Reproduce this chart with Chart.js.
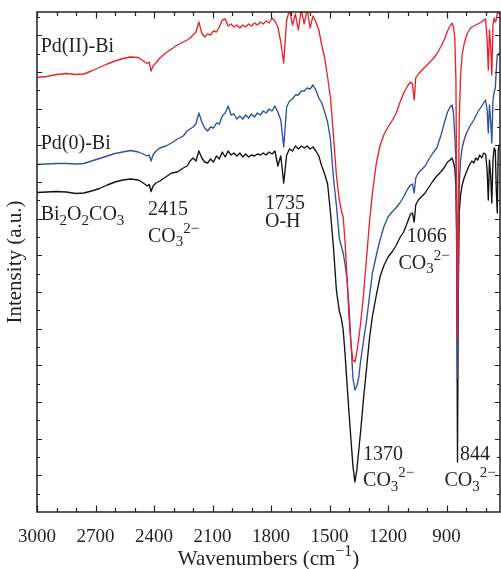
<!DOCTYPE html>
<html>
<head>
<meta charset="utf-8">
<script src="https://cdn.jsdelivr.net/npm/chart.js@4.4.1/dist/chart.umd.min.js"></script>
<style>
  html, body { margin: 0; padding: 0; background: #ffffff; }
  canvas { display: block; }
</style>
</head>
<body>
<canvas id="ftir" width="501" height="569"></canvas>
<script>
// FT-IR spectra of Bi2O2CO3, Pd(0)-Bi and Pd(II)-Bi (offset intensity, a.u.)
const wavenumbers = [
  3000, 2950, 2900, 2850, 2800, 2760, 2720, 2680, 2640, 2600, 2560, 2520, 2480, 2455, 2435, 2425, 2415, 2405, 2390, 2370, 2340, 2310, 2280, 2250,
  2230, 2215, 2200, 2185, 2170, 2155, 2140, 2125, 2110, 2095, 2080, 2065, 2050, 2035, 2020, 2005, 1990, 1975, 1960, 1945, 1930, 1915, 1900, 1885,
  1870, 1855, 1840, 1825, 1810, 1795, 1780, 1765, 1750, 1735, 1720, 1705, 1690, 1675, 1660, 1645, 1630, 1615, 1600, 1585, 1570, 1555, 1540, 1525, 1510,
  1495, 1480, 1465, 1450, 1440, 1430, 1420, 1410, 1400, 1390, 1380, 1370, 1360, 1350, 1340, 1325, 1310, 1295, 1280,
  1260, 1240, 1220, 1200, 1180, 1160, 1140, 1120, 1100, 1085, 1075, 1066, 1058, 1045, 1030, 1010, 990, 970, 950, 930, 910,
  895, 882, 872, 865, 858, 852, 848, 844, 840, 835, 828, 820, 810, 800, 790, 780, 770, 760, 750, 740, 730, 720, 710, 700,
  692, 686, 680, 674, 668, 662, 656, 650, 645, 640, 635, 630, 626
];

const pdIIBi = [
  86.9, 87.1, 87.5, 87.7, 87.5, 87.6, 88.2, 88.9, 89.6, 90.2, 90.7, 91.0, 90.9, 90.2, 89.7, 90.0, 88.2, 89.2, 89.8, 90.8, 91.8, 92.6, 93.4, 94.0,
  94.4, 94.8, 95.4, 96.0, 98.0, 95.8, 95.0, 95.6, 95.4, 96.2, 96.0, 97.0, 98.4, 98.6, 97.2, 97.6, 97.0, 97.4, 96.8, 97.4, 97.0, 97.6, 97.2, 97.8,
  97.4, 98.0, 97.6, 98.2, 97.8, 98.8, 98.2, 97.0, 94.0, 89.8, 98.4, 100.4, 97.4, 99.6, 96.4, 100.4, 97.6, 100.6, 96.8, 99.2, 98.0, 96.4, 93.4, 90.8, 87.0,
  82.8, 75.4, 67.4, 62.4, 60.4, 59.0, 53.8, 46.4, 38.8, 33.4, 30.4, 30.0, 32.0, 34.8, 38.0, 43.8, 51.0, 58.0, 63.8,
  69.8, 73.4, 75.6, 77.0, 78.2, 79.6, 81.8, 83.8, 85.2, 86.0, 85.6, 82.4, 86.8, 87.6, 88.2, 89.0, 89.8, 90.6, 91.6, 93.0, 94.6,
  96.2, 97.2, 97.8, 97.0, 95.0, 86.4, 62.4, 34.4, 58.4, 78.4, 87.4, 91.4, 93.6, 95.0, 96.0, 96.6, 97.0, 97.2, 97.4, 97.6, 97.8, 98.0, 98.4, 98.6,
  94.4, 88.4, 96.4, 93.4, 87.4, 97.4, 98.8, 98.0, 98.4, 99.8, 100.0, 99.6, 99.6
];

const pd0Bi = [
  69.5, 69.6, 69.7, 69.7, 69.6, 69.7, 70.2, 70.7, 71.2, 71.7, 72.0, 72.3, 72.0, 71.6, 71.2, 71.4, 70.2, 71.4, 72.2, 72.8, 73.2, 73.8, 74.6, 75.2,
  76.2, 76.6, 77.0, 77.6, 79.8, 78.0, 76.8, 76.2, 77.0, 76.8, 77.8, 77.6, 79.2, 79.8, 81.2, 79.4, 79.6, 78.6, 79.2, 78.6, 79.4, 78.8, 79.6, 79.0,
  79.8, 79.4, 80.2, 79.8, 80.6, 80.2, 81.2, 80.0, 78.4, 73.0, 81.0, 82.2, 82.6, 83.4, 83.4, 84.2, 84.2, 84.8, 84.6, 85.4, 84.4, 82.8, 81.8, 80.0, 78.0,
  74.4, 66.8, 61.4, 54.8, 53.2, 51.8, 49.4, 46.4, 41.0, 33.8, 26.8, 24.4, 25.2, 27.0, 30.4, 34.4, 38.4, 43.2, 47.8,
  51.4, 54.6, 57.2, 59.0, 60.0, 60.8, 61.8, 63.0, 64.6, 65.4, 65.6, 63.8, 66.8, 67.8, 68.4, 69.2, 70.6, 71.8, 72.8, 75.2, 78.0,
  80.0, 81.0, 81.4, 80.0, 75.4, 70.4, 56.4, 27.0, 50.4, 65.4, 70.4, 72.8, 74.4, 75.6, 76.4, 77.2, 77.8, 78.4, 79.2, 80.0, 80.6, 81.2, 81.8, 82.4,
  80.4, 75.8, 81.4, 78.4, 73.8, 82.4, 84.0, 84.8, 88.4, 91.4, 91.4, 91.8, 91.8
];

const bi2o2co3 = [
  63.9, 64.0, 64.1, 64.0, 63.7, 63.8, 64.2, 64.7, 65.4, 66.0, 66.4, 66.6, 66.4, 65.8, 65.2, 65.5, 64.1, 65.2, 65.8, 66.2, 67.0, 67.8, 68.0, 68.8,
  69.2, 70.2, 70.8, 70.2, 72.2, 70.8, 70.0, 69.8, 70.6, 70.0, 71.2, 70.6, 72.0, 71.0, 72.2, 71.4, 71.8, 71.2, 71.8, 71.0, 71.6, 71.0, 71.4, 71.2,
  71.6, 71.4, 71.8, 71.4, 72.0, 71.6, 72.2, 69.2, 71.2, 65.8, 71.4, 72.6, 72.2, 73.2, 72.6, 73.2, 72.8, 73.2, 72.6, 73.0, 72.2, 71.2, 69.2, 67.6, 65.6,
  59.8, 53.0, 44.4, 40.2, 38.8, 36.4, 31.4, 25.4, 19.8, 14.4, 9.2, 6.0, 8.4, 12.4, 16.4, 23.0, 28.8, 34.8, 39.2,
  43.4, 47.2, 49.4, 51.0, 52.0, 53.2, 54.8, 56.0, 58.0, 59.6, 59.8, 58.0, 61.4, 62.4, 63.0, 63.8, 65.0, 66.2, 67.2, 68.0, 69.0,
  70.0, 70.4, 70.8, 70.0, 68.8, 65.4, 52.4, 10.0, 42.4, 59.8, 63.4, 65.4, 66.8, 67.8, 68.8, 69.6, 70.2, 69.8, 70.8, 70.4, 71.4, 70.8, 71.8, 71.6,
  68.4, 62.4, 70.4, 67.4, 61.8, 70.4, 72.8, 72.4, 64.4, 59.8, 72.4, 73.4, 73.4
];

const seriesNames = ['Pd(II)-Bi', 'Pd(0)-Bi', 'Bi2O2CO3'];
const xTickLabels = [3000, 2700, 2400, 2100, 1800, 1500, 1200, 900];

const INK = '#231f20';
const SERIF = '"Liberation Serif", "Times New Roman", serif';

// Text placed in data coordinates (cm-1, a.u.); parts may be subscript or superscript
const annotations = [
  { x: 2981, y: 92.1, parts: [{ t: 'Pd(II)-Bi' }] },
  { x: 2981, y: 72.7, parts: [{ t: 'Pd(0)-Bi' }] },
  { x: 2981, y: 58.4, parts: [{ t: 'Bi' }, { t: '2', sub: true }, { t: 'O' }, { t: '2', sub: true }, { t: 'CO' }, { t: '3', sub: true }] },
  { x: 2431, y: 59.4, parts: [{ t: '2415' }] },
  { x: 2431, y: 54.1, parts: [{ t: 'CO' }, { t: '3', sub: true }, { t: '2\u2212', sup: true }] },
  { x: 1831, y: 60.7, parts: [{ t: '1735' }] },
  { x: 1831, y: 57.1, parts: [{ t: 'O-H' }] },
  { x: 1104, y: 54.1, parts: [{ t: '1066' }] },
  { x: 1147, y: 48.7, parts: [{ t: 'CO' }, { t: '3', sub: true }, { t: '2\u2212', sup: true }] },
  { x: 1328, y: 10.4, parts: [{ t: '1370' }] },
  { x: 1328, y: 5.2, parts: [{ t: 'CO' }, { t: '3', sub: true }, { t: '2\u2212', sup: true }] },
  { x: 831, y: 10.4, parts: [{ t: '844' }] },
  { x: 911, y: 5.2, parts: [{ t: 'CO' }, { t: '3', sub: true }, { t: '2\u2212', sup: true }] }
];

const yTickStep = 11 / 3;

function drawRich(ctx, x, y, parts, size) {
  let cx = x;
  for (const p of parts) {
    const s = (p.sub || p.sup) ? size * 0.75 : size;
    ctx.font = s + 'px ' + SERIF;
    const dy = p.sub ? size * 0.24 : (p.sup ? -size * 0.45 : 0);
    ctx.fillText(p.t, cx, y + dy);
    cx += ctx.measureText(p.t).width;
  }
  return cx - x;
}

function measureRich(ctx, parts, size) {
  let w = 0;
  for (const p of parts) {
    const s = (p.sub || p.sup) ? size * 0.75 : size;
    ctx.font = s + 'px ' + SERIF;
    w += ctx.measureText(p.t).width;
  }
  return w;
}

const frameAndLabels = {
  id: 'frameAndLabels',
  afterDatasetsDraw(chart) {
    const { ctx, chartArea: a, scales: { x, y } } = chart;
    ctx.save();
    // frame
    ctx.strokeStyle = INK;
    ctx.lineWidth = 1.5;
    ctx.strokeRect(a.left, a.top, a.right - a.left, a.bottom - a.top);

    // x ticks (inward, bottom and top)
    ctx.lineWidth = 1.2;
    ctx.beginPath();
    for (let w = 3000; w >= x.min; w -= 100) {
      const px = Math.round(x.getPixelForValue(w)) + 0.5;
      const len = (w % 300 === 0) ? 6.5 : 4;
      ctx.moveTo(px, a.bottom); ctx.lineTo(px, a.bottom - len);
      ctx.moveTo(px, a.top); ctx.lineTo(px, a.top + len);
    }
    // y ticks (inward, left and right)
    let k = 0;
    for (let v = y.min + yTickStep; v < y.max; v += yTickStep, k++) {
      const py = Math.round(y.getPixelForValue(v)) + 0.5;
      const len = (k % 2 === 1) ? 5 : 3;
      ctx.moveTo(a.left, py); ctx.lineTo(a.left + len, py);
      ctx.moveTo(a.right, py); ctx.lineTo(a.right - len, py);
    }
    ctx.stroke();

    // band and sample labels
    ctx.fillStyle = INK;
    ctx.textBaseline = 'alphabetic';
    ctx.textAlign = 'left';
    for (const an of annotations) {
      drawRich(ctx, x.getPixelForValue(an.x), y.getPixelForValue(an.y), an.parts, 20);
    }

    // x axis title with superscript
    const titleParts = [{ t: 'Wavenumbers (cm' }, { t: '\u22121', sup: true }, { t: ')' }];
    const tw = measureRich(ctx, titleParts, 21);
    const cx = (a.left + a.right) / 2;
    drawRich(ctx, cx - tw / 2, 565, titleParts, 21);
    ctx.restore();
  }
};

const toPoints = (vals) => wavenumbers.map((w, i) => ({ x: w, y: vals[i] }));

new Chart(document.getElementById('ftir'), {
  type: 'line',
  data: {
    datasets: [
      { label: seriesNames[0], data: toPoints(pdIIBi), borderColor: '#e8232a' },
      { label: seriesNames[1], data: toPoints(pd0Bi), borderColor: '#2f4fa0' },
      { label: seriesNames[2], data: toPoints(bi2o2co3), borderColor: '#111111' }
    ]
  },
  options: {
    responsive: false,
    animation: false,
    devicePixelRatio: 1,
    parsing: false,
    layout: { padding: { top: 12, right: 1, left: 0, bottom: 0 } },
    elements: {
      line: { borderWidth: 1.35, tension: 0, fill: false, borderJoinStyle: 'round' },
      point: { radius: 0, hoverRadius: 0 }
    },
    plugins: { legend: { display: false }, tooltip: { enabled: false } },
    scales: {
      x: {
        type: 'linear',
        reverse: true,
        min: 626,
        max: 3000,
        grid: { display: false },
        border: { display: false },
        afterBuildTicks: (scale) => { scale.ticks = xTickLabels.map(v => ({ value: v })); },
        afterFit: (scale) => { scale.height = 57; },
        ticks: {
          autoSkip: false,
          maxRotation: 0,
          padding: 6,
          color: INK,
          font: { family: SERIF, size: 19 },
          callback: (v) => String(v)
        }
      },
      y: {
        type: 'linear',
        min: 0,
        max: 100,
        grid: { display: false },
        border: { display: false },
        ticks: { display: false },
        afterFit: (scale) => { scale.width = 37; },
        title: {
          display: true,
          text: 'Intensity (a.u.)',
          color: INK,
          font: { family: SERIF, size: 21 },
          padding: { top: 3, bottom: 0 }
        }
      }
    }
  },
  plugins: [frameAndLabels]
});
</script>
</body>
</html>
